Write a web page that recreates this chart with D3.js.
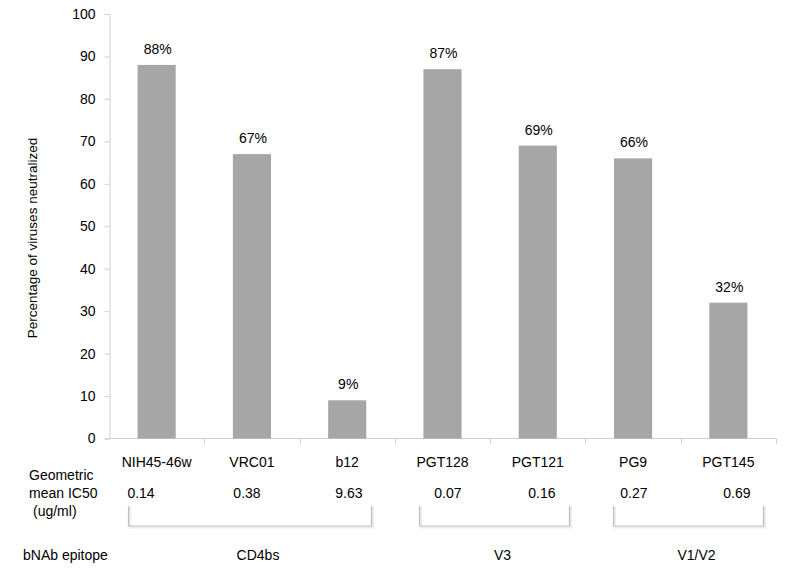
<!DOCTYPE html>
<html><head><meta charset="utf-8">
<script src="https://cdn.jsdelivr.net/npm/d3@7"></script>
<style>body{margin:0;background:#fff}text{font-family:"Liberation Sans",Arial,sans-serif;fill:#000}</style>
</head><body><svg id="c" width="800" height="581"></svg>
<script>
const categories = ["NIH45-46w","VRC01","b12","PGT128","PGT121","PG9","PGT145"];
const values = [88,67,9,87,69,66,32];
const ic50 = ["0.14","0.38","9.63","0.07","0.16","0.27","0.69"];
const epitopes = ["CD4bs","V3","V1/V2"];
const epitopeSpans = [[0,2],[3,4],[5,6]];
const yTicks = [0,10,20,30,40,50,60,70,80,90,100];

const svg = d3.select("#c");
const x = d3.scaleBand().domain(categories).range([109,776]).paddingInner(0.6).paddingOuter(0.3);
const xb = d3.scaleBand().domain(categories).range([109,776]);
// continuous position in band units, for annotation layout
const xu = d3.scaleLinear().domain([0,categories.length]).range([109,776]);
const y = d3.scaleLinear().domain([0,100]).range([438.5,14]);
const axisCol = "#cfcfcf";

// layout constants for hand-placed annotations (band units)
const icPos = [0.336,1.448,2.518,3.557,4.543,5.508,6.589];
const bracketPos = [[0.2,2.75],[3.25,4.83],[5.29,6.86]];

// y axis
const ya = svg.append("g").attr("transform","translate(109.5,0)")
  .call(d3.axisLeft(y).tickValues(yTicks).tickSize(5).tickPadding(9));
ya.select(".domain").attr("stroke",axisCol);
ya.selectAll(".tick line").attr("stroke",axisCol);
ya.selectAll(".tick text").attr("font-size","14px").attr("font-family","Liberation Sans, Arial, sans-serif").attr("fill","#000");

// x axis line and separators
svg.append("line").attr("x1",109).attr("x2",776).attr("y1",438.5).attr("y2",438.5).attr("stroke",axisCol);
categories.forEach(c=>{
  const xe = xb(c)+xb.bandwidth();
  svg.append("line").attr("x1",Math.round(xe)+0.5).attr("x2",Math.round(xe)+0.5).attr("y1",438.5).attr("y2",444).attr("stroke",axisCol);
});

// bars
svg.selectAll("rect.bar").data(categories).enter().append("rect")
  .attr("x",c=>x(c)).attr("width",x.bandwidth())
  .attr("y",(c,i)=>y(values[i])).attr("height",(c,i)=>y(0)-y(values[i]))
  .attr("fill","#a6a6a6");

// value labels
svg.selectAll("text.vl").data(categories).enter().append("text")
  .attr("x",c=>x(c)+x.bandwidth()/2+1).attr("y",(c,i)=>y(values[i])-11)
  .attr("text-anchor","middle").attr("font-size","14px").text((c,i)=>values[i]+"%");

// category labels
svg.selectAll("text.cl").data(categories).enter().append("text")
  .attr("x",c=>x(c)+x.bandwidth()/2).attr("y",467)
  .attr("text-anchor","middle").attr("font-size","14px").text(c=>c);

// IC50 values
svg.selectAll("text.ic").data(categories).enter().append("text")
  .attr("x",(c,i)=>xu(icPos[i])).attr("y",498)
  .attr("text-anchor","middle").attr("font-size","14px").text((c,i)=>ic50[i]);

// row labels
svg.append("text").attr("x",29).attr("y",480).attr("font-size","14px").text("Geometric");
svg.append("text").attr("x",29).attr("y",498).attr("font-size","14px").text("mean IC50");
svg.append("text").attr("x",33).attr("y",516).attr("font-size","14px").text("(ug/ml)");
svg.append("text").attr("x",23).attr("y",560).attr("font-size","14px").text("bNAb epitope");

// brackets
epitopes.forEach((e,i)=>{
  const x1 = Math.round(xu(bracketPos[i][0]))+0.5;
  const x2 = Math.round(xu(bracketPos[i][1]))+0.5;
  svg.append("path").attr("d",`M${x1+1.5},507 V527.5 H${x2+1.5} V507`).attr("fill","none").attr("stroke","#ececec").attr("stroke-width",2);
  svg.append("path").attr("d",`M${x1},506 V526 H${x2} V506`).attr("fill","none").attr("stroke","#bfbfbf").attr("stroke-width",1.2);
  svg.append("text").attr("x",(x1+x2)/2+8).attr("y",560).attr("text-anchor","middle").attr("font-size","14px").text(e);
});

// y title
svg.append("text").attr("transform","translate(37,238) rotate(-90)")
  .attr("text-anchor","middle").attr("font-size","13.5px").text("Percentage of viruses neutralized");
</script></body></html>
